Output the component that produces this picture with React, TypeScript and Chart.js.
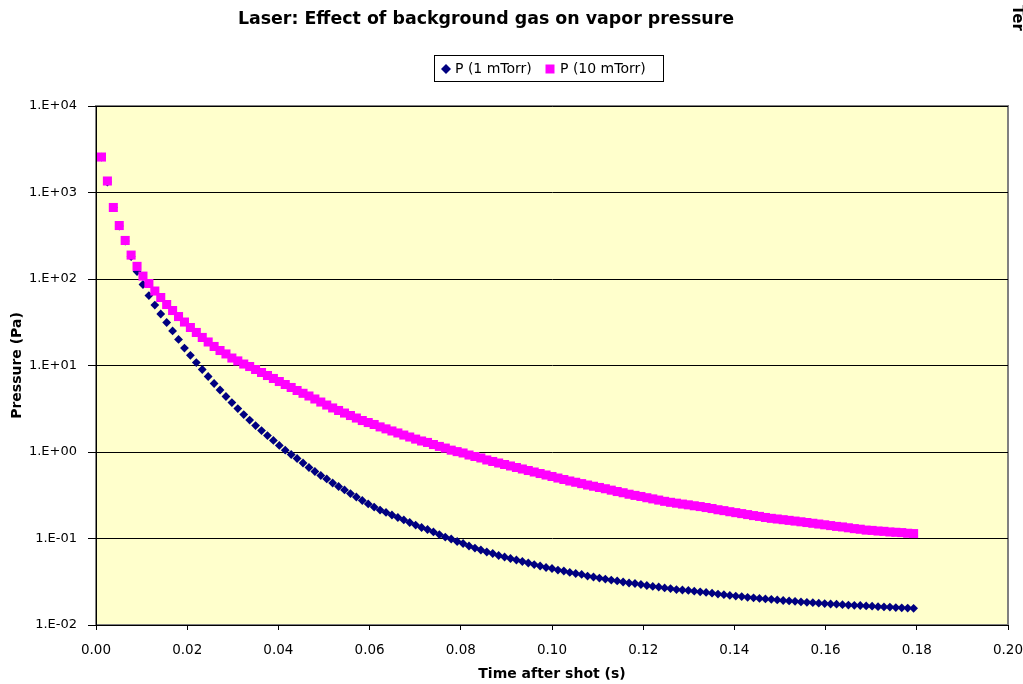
import { useEffect, useRef } from 'react';
import { Chart, registerables } from 'chart.js';

Chart.register(...registerables);

const TITLE = 'Laser: Effect of background gas on vapor pressure';
const X_LABEL = 'Time after shot (s)';
const Y_LABEL = 'Pressure (Pa)';
const SERIES_LABELS = ['P (1 mTorr)', 'P (10 mTorr)'];
const SERIES_COLORS = ['#000080', '#FF00FF'];
const CORNER_LABEL = 'Ter';

// Time after the laser shot (s)
const TIME_S = [
  0.0012, 0.0025, 0.0038, 0.0051, 0.0064, 0.0077, 0.0090, 0.0103, 0.0116, 0.0129,
  0.0142, 0.0155, 0.0168, 0.0181, 0.0194, 0.0207, 0.0220, 0.0233, 0.0246, 0.0259,
  0.0272, 0.0285, 0.0298, 0.0311, 0.0324, 0.0337, 0.0350, 0.0363, 0.0376, 0.0389,
  0.0402, 0.0415, 0.0428, 0.0441, 0.0454, 0.0467, 0.0480, 0.0493, 0.0506, 0.0519,
  0.0532, 0.0545, 0.0558, 0.0571, 0.0584, 0.0597, 0.0610, 0.0623, 0.0636, 0.0649,
  0.0662, 0.0675, 0.0688, 0.0701, 0.0714, 0.0727, 0.0740, 0.0753, 0.0766, 0.0779,
  0.0792, 0.0805, 0.0818, 0.0831, 0.0844, 0.0857, 0.0870, 0.0883, 0.0896, 0.0909,
  0.0922, 0.0935, 0.0948, 0.0961, 0.0974, 0.0987, 0.1000, 0.1013, 0.1026, 0.1039,
  0.1052, 0.1065, 0.1078, 0.1091, 0.1104, 0.1117, 0.1130, 0.1143, 0.1156, 0.1169,
  0.1182, 0.1195, 0.1208, 0.1221, 0.1234, 0.1247, 0.1260, 0.1273, 0.1286, 0.1299,
  0.1312, 0.1325, 0.1338, 0.1351, 0.1364, 0.1377, 0.1390, 0.1403, 0.1416, 0.1429,
  0.1442, 0.1455, 0.1468, 0.1481, 0.1494, 0.1507, 0.1520, 0.1533, 0.1546, 0.1559,
  0.1572, 0.1585, 0.1598, 0.1611, 0.1624, 0.1637, 0.1650, 0.1663, 0.1676, 0.1689,
  0.1702, 0.1715, 0.1728, 0.1741, 0.1754, 0.1767, 0.1780, 0.1793,
];

// Vapor pressure (Pa) with 1 mTorr of background gas
const P_1_MTORR = [
  2570, 1322, 671, 410, 275, 182, 122, 86.4, 64.4, 50.0,
  39.4, 31.4, 25.1, 20.0, 15.9, 13.1, 10.8, 8.99, 7.46, 6.19,
  5.21, 4.38, 3.73, 3.18, 2.71, 2.34, 2.02, 1.77, 1.55, 1.36,
  1.19, 1.05, 0.936, 0.841, 0.746, 0.662, 0.595, 0.535, 0.488, 0.438,
  0.399, 0.364, 0.331, 0.302, 0.275, 0.251, 0.231, 0.213, 0.200, 0.187,
  0.175, 0.164, 0.153, 0.143, 0.134, 0.127, 0.119, 0.111, 0.104, 0.0987,
  0.0923, 0.0875, 0.0819, 0.0776, 0.0736, 0.0698, 0.0671, 0.0636, 0.0611, 0.0587,
  0.0564, 0.0542, 0.0521, 0.0500, 0.0481, 0.0462, 0.0450, 0.0432, 0.0421, 0.0405,
  0.0394, 0.0384, 0.0368, 0.0359, 0.0349, 0.0340, 0.0331, 0.0323, 0.0314, 0.0306,
  0.0302, 0.0294, 0.0286, 0.0279, 0.0275, 0.0268, 0.0264, 0.0257, 0.0254, 0.0251,
  0.0246, 0.0242, 0.0238, 0.0233, 0.0228, 0.0224, 0.0220, 0.0216, 0.0213, 0.0209,
  0.0206, 0.0203, 0.0200, 0.0198, 0.0195, 0.0192, 0.0190, 0.0188, 0.0185, 0.0183,
  0.0181, 0.0179, 0.0177, 0.0175, 0.0174, 0.0172, 0.0170, 0.0169, 0.0168, 0.0166,
  0.0165, 0.0163, 0.0162, 0.0161, 0.0159, 0.0158, 0.0157, 0.0156,
];

// Vapor pressure (Pa) with 10 mTorr of background gas
const P_10_MTORR = [
  2570, 1358, 671, 415, 279, 189, 140, 108, 88.7, 72.6,
  61.1, 50.7, 43.2, 36.8, 31.8, 27.5, 24.1, 21.1, 18.7, 16.6,
  14.9, 13.6, 12.2, 11.3, 10.4, 9.73, 8.99, 8.30, 7.66, 7.08,
  6.53, 6.03, 5.57, 5.14, 4.77, 4.44, 4.10, 3.78, 3.49, 3.23,
  3.02, 2.82, 2.64, 2.47, 2.31, 2.19, 2.08, 1.95, 1.85, 1.75,
  1.66, 1.57, 1.49, 1.41, 1.34, 1.29, 1.22, 1.16, 1.11, 1.05,
  1.01, 0.974, 0.923, 0.887, 0.853, 0.809, 0.777, 0.746, 0.717, 0.689,
  0.662, 0.636, 0.611, 0.587, 0.564, 0.542, 0.521, 0.500, 0.481, 0.462,
  0.447, 0.431, 0.415, 0.402, 0.389, 0.376, 0.362, 0.349, 0.338, 0.325,
  0.315, 0.306, 0.296, 0.287, 0.278, 0.269, 0.262, 0.256, 0.250, 0.245,
  0.239, 0.234, 0.228, 0.222, 0.215, 0.210, 0.204, 0.199, 0.194, 0.189,
  0.184, 0.180, 0.175, 0.171, 0.168, 0.165, 0.162, 0.159, 0.156, 0.153,
  0.150, 0.147, 0.144, 0.141, 0.138, 0.136, 0.133, 0.130, 0.128, 0.125,
  0.124, 0.122, 0.121, 0.119, 0.118, 0.117, 0.115, 0.114,
];

const X_TICKS = [0, 0.02, 0.04, 0.06, 0.08, 0.1, 0.12, 0.14, 0.16, 0.18, 0.2];
const Y_TICKS = [0.01, 0.1, 1, 10, 100, 1000, 10000];

const FONT = '"DejaVu Sans", Verdana, sans-serif';
const PLOT_BG = '#FFFFCC';

function sciLabel(v: number): string {
  const e = Math.round(Math.log10(v));
  const sign = e < 0 ? '-' : '+';
  return `1.E${sign}${String(Math.abs(e)).padStart(2, '0')}`;
}

// simple marker painter for the legend swatches
function drawSwatch(ctx: CanvasRenderingContext2D, shape: string, x: number, y: number, r: number) {
  ctx.beginPath();
  if (shape === 'rect') {
    ctx.rect(x - r, y - r, 2 * r, 2 * r);
  } else {
    ctx.moveTo(x, y - r);
    ctx.lineTo(x + r, y);
    ctx.lineTo(x, y + r);
    ctx.lineTo(x - r, y);
    ctx.closePath();
  }
  ctx.fill();
}

const plotFrame = {
  id: 'plotFrame',
  beforeDraw(chart: any) {
    const { ctx, chartArea: a } = chart;
    ctx.save();
    ctx.fillStyle = PLOT_BG;
    ctx.fillRect(a.left, a.top, a.right - a.left, a.bottom - a.top);
    ctx.strokeStyle = '#808080';
    ctx.lineWidth = 2;
    ctx.strokeRect(a.left, a.top, a.right - a.left, a.bottom - a.top);
    ctx.restore();
  },
};

const headerAndLegend = {
  id: 'headerAndLegend',
  afterDraw(chart: any) {
    const { ctx } = chart;
    ctx.save();

    // chart title
    ctx.fillStyle = '#000';
    ctx.font = `bold 17.4px ${FONT}`;
    ctx.textAlign = 'center';
    ctx.textBaseline = 'middle';
    ctx.fillText(TITLE, 486, 19);

    // legend box
    const boxX = 434.5;
    const boxY = 55.5;
    const boxW = 229;
    const boxH = 26;
    ctx.fillStyle = '#FFFFFF';
    ctx.fillRect(boxX, boxY, boxW, boxH);
    ctx.strokeStyle = '#000';
    ctx.lineWidth = 1;
    ctx.strokeRect(boxX, boxY, boxW, boxH);

    const cy = boxY + boxH / 2 + 0.5;
    ctx.font = `14px ${FONT}`;
    ctx.textAlign = 'left';
    ctx.textBaseline = 'middle';
    const items = [
      { shape: 'diamond', r: 5, mx: 446, tx: 455 },
      { shape: 'rect', r: 4.5, mx: 550, tx: 560 },
    ];
    items.forEach((it, i) => {
      ctx.fillStyle = SERIES_COLORS[i];
      drawSwatch(ctx, it.shape, it.mx, cy, it.r);
      ctx.fillStyle = '#000';
      ctx.fillText(SERIES_LABELS[i], it.tx, cy);
    });

    // clipped label of a neighbouring panel at the top-right edge
    ctx.translate(1017, 5);
    ctx.rotate(Math.PI / 2);
    ctx.font = `bold 15px ${FONT}`;
    ctx.textAlign = 'left';
    ctx.textBaseline = 'middle';
    ctx.fillStyle = '#000';
    ctx.fillText(CORNER_LABEL, 0, 0);

    ctx.restore();
  },
};

export default function App() {
  const canvasRef = useRef<HTMLCanvasElement | null>(null);

  useEffect(() => {
    const canvas = canvasRef.current;
    if (!canvas) return;

    const chart = new Chart(canvas, {
      type: 'scatter',
      data: {
        datasets: [
          {
            label: SERIES_LABELS[0],
            data: TIME_S.map((t, i) => ({ x: t, y: P_1_MTORR[i] })),
            pointStyle: 'rectRot',
            pointRadius: 4.4,
            backgroundColor: SERIES_COLORS[0],
            borderColor: SERIES_COLORS[0],
            borderWidth: 0,
            showLine: false,
            order: 1,
          },
          {
            label: SERIES_LABELS[1],
            data: TIME_S.map((t, i) => ({ x: t, y: P_10_MTORR[i] })),
            pointStyle: 'rect',
            pointRadius: 6.4,
            backgroundColor: SERIES_COLORS[1],
            borderColor: SERIES_COLORS[1],
            borderWidth: 0,
            showLine: false,
            order: 0,
          },
        ],
      },
      options: {
        responsive: false,
        animation: false,
        devicePixelRatio: 1,
        events: [],
        layout: { padding: { top: 106, right: 15, left: 0, bottom: 0 } },
        plugins: {
          legend: { display: false },
          title: { display: false },
          tooltip: { enabled: false },
        },
        scales: {
          x: {
            type: 'linear',
            min: 0,
            max: 0.2,
            afterBuildTicks: (s: any) => {
              s.ticks = X_TICKS.map((v) => ({ value: v }));
            },
            afterFit: (s: any) => {
              s.height = 59;
              s.paddingLeft = 0;
              s.paddingRight = 0;
            },
            ticks: {
              autoSkip: false,
              maxRotation: 0,
              padding: 12,
              color: '#000',
              font: { family: FONT, size: 13.5 },
              callback: (v: any) => Number(v).toFixed(2),
            },
            grid: { drawOnChartArea: false, drawTicks: true, tickLength: 5, color: '#000', lineWidth: 1 },
            border: { color: '#000', width: 1 },
            title: {
              display: true,
              text: X_LABEL,
              color: '#000',
              font: { family: FONT, size: 14, weight: 'bold' },
              padding: { top: 0, bottom: 1 },
            },
          },
          y: {
            type: 'logarithmic',
            min: 0.01,
            max: 10000,
            afterBuildTicks: (s: any) => {
              s.ticks = Y_TICKS.map((v) => ({ value: v, major: true }));
            },
            afterFit: (s: any) => {
              s.width = 96;
              s.paddingTop = 0;
              s.paddingBottom = 0;
            },
            ticks: {
              autoSkip: false,
              padding: 11,
              color: '#000',
              font: { family: FONT, size: 13 },
              callback: (v: any) => sciLabel(Number(v)),
            },
            grid: { drawOnChartArea: true, drawTicks: true, tickLength: 8, color: '#000', lineWidth: 1 },
            border: { color: '#000', width: 1 },
            title: {
              display: true,
              text: Y_LABEL,
              color: '#000',
              font: { family: FONT, size: 14, weight: 'bold' },
              padding: { top: 9, bottom: 0 },
            },
          },
        },
      },
      plugins: [plotFrame, headerAndLegend],
    } as any);

    return () => chart.destroy();
  }, []);

  return (
    <div style={{ position: 'absolute', left: 0, top: 0, width: 1023, height: 684, background: '#fff', overflow: 'hidden' }}>
      <canvas ref={canvasRef} width={1023} height={684} style={{ display: 'block' }} />
    </div>
  );
}
